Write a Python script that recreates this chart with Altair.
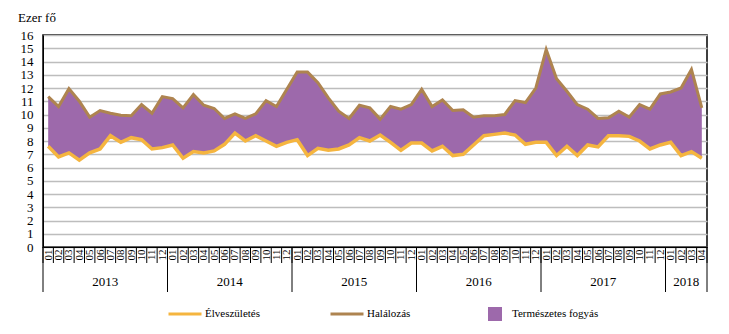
import json
import altair as alt
import pandas as pd

# ---- data (thousand persons) ----
years = [2013, 2014, 2015, 2016, 2017, 2018]
months_in_year = [12, 12, 12, 12, 12, 4]
month_names = ["01", "02", "03", "04", "05", "06", "07", "08", "09", "10", "11", "12"]

births = [
    7.6, 6.8, 7.1, 6.55, 7.1, 7.4, 8.4, 7.9, 8.25, 8.1, 7.4, 7.5,
    7.7, 6.7, 7.2, 7.1, 7.25, 7.75, 8.6, 8.0, 8.4, 8.0, 7.6, 7.9,
    8.1, 6.9, 7.45, 7.3, 7.4, 7.7, 8.25, 8.0, 8.45, 7.9, 7.3, 7.85,
    7.85, 7.25, 7.6, 6.9, 7.0, 7.7, 8.4, 8.5, 8.6, 8.45, 7.75, 7.9,
    7.9, 6.9, 7.6, 6.9, 7.7, 7.55, 8.4, 8.4, 8.35, 8.0, 7.4, 7.7,
    7.9, 6.9, 7.2, 6.7,
]
deaths = [
    11.35, 10.6, 11.95, 11.0, 9.8, 10.3, 10.1, 9.95, 9.9, 10.75, 10.1, 11.35,
    11.2, 10.5, 11.5, 10.7, 10.45, 9.7, 10.05, 9.7, 10.05, 11.05, 10.6, 11.9,
    13.2, 13.2, 12.4, 11.25, 10.25, 9.7, 10.7, 10.5, 9.65, 10.6, 10.4, 10.75,
    11.9, 10.6, 11.1, 10.3, 10.35, 9.8, 9.9, 9.9, 10.0, 11.05, 10.9, 12.0,
    14.9, 12.7, 11.75, 10.75, 10.4, 9.7, 9.75, 10.25, 9.8, 10.75, 10.4, 11.55,
    11.7, 12.0, 13.4, 10.5,
]
series_names = ["Élveszületés", "Halálozás", "Természetes fogyás"]
y_title = "Ezer fő"

# ---- build tables ----
month_labels = []
year_rows = []
bounds = []
start = 0
for y, n in zip(years, months_in_year):
    month_labels += month_names[:n]
    year_rows.append({"year": str(y), "mid": start + (n - 1) / 2})
    bounds.append(start - 0.5)
    start += n
bounds.append(start - 0.5)
N = len(births)

df = pd.DataFrame({"i": list(range(N)), "b": births, "d": deaths})
df_years = pd.DataFrame(year_rows)
df_mb = pd.DataFrame({"x": [k - 0.5 for k in range(N + 1)]})
df_yb = pd.DataFrame({"x": bounds})
df_title = pd.DataFrame({"t": [y_title]})

FONT = "Liberation Serif"
PURPLE = "#9D69AB"
C_BIRTH = "#F5B53F"
C_DEATH = "#AE8450"
H = 212
W = 664

xscale = alt.Scale(domain=[-0.5, N - 0.5], nice=False, zero=False)
yscale = alt.Scale(domain=[0, 16], nice=False)

x_axis = alt.Axis(
    values=list(range(N)),
    labelExpr=json.dumps(month_labels) + "[datum.value]",
    labelAngle=-90,
    labelFont=FONT,
    labelFontSize=11,
    labelColor="black",
    labelPadding=2,
    ticks=False,
    grid=False,
    domainColor="black",
    domainWidth=1,
    title=None,
    labelOverlap=False,
)
y_axis = alt.Axis(
    values=list(range(17)),
    grid=True,
    gridColor="#BDBDBD",
    gridWidth=1.5,
    ticks=False,
    domainColor="black",
    labelFont=FONT,
    labelFontSize=13,
    labelColor="black",
    labelPadding=10,
    labelOverlap=False,
    title=None,
)

color_scale = alt.Scale(domain=series_names[:2], range=[C_BIRTH, C_DEATH])
color_legend = alt.Legend(
    orient="none", legendX=124, legendY=261, direction="horizontal",
    symbolType="stroke", symbolSize=1089, symbolStrokeWidth=3,
    labelFont=FONT, labelFontSize=11, labelColor="black", labelOffset=2,
    columnPadding=64, title=None,
)
fill_legend = alt.Legend(
    orient="none", legendX=445, legendY=272, direction="horizontal",
    symbolType="square", symbolSize=196, symbolStrokeWidth=0,
    labelFont=FONT, labelFontSize=11, labelColor="black", labelOffset=10,
    title=None,
)

X = alt.X("i:Q", scale=xscale, axis=x_axis)
base = alt.Chart(df)

area = base.mark_area(opacity=1).transform_calculate(
    s=json.dumps(series_names[2])
).encode(
    x=X,
    y=alt.Y("b:Q", scale=yscale, axis=y_axis),
    y2="d:Q",
    fill=alt.Fill("s:N", scale=alt.Scale(domain=[series_names[2]], range=[PURPLE]), legend=fill_legend),
)

line_b = base.mark_line(strokeWidth=3.5).transform_calculate(
    s=json.dumps(series_names[0])
).encode(
    x=X,
    y=alt.Y("b:Q", scale=yscale, axis=y_axis),
    color=alt.Color("s:N", scale=color_scale, legend=color_legend),
)
line_d = base.mark_line(strokeWidth=3).transform_calculate(
    s=json.dumps(series_names[1])
).encode(
    x=X,
    y=alt.Y("d:Q", scale=yscale, axis=y_axis),
    color=alt.Color("s:N", scale=color_scale, legend=color_legend),
)

month_sep = alt.Chart(df_mb).mark_rule(color="black", strokeWidth=1).encode(
    x=alt.X("x:Q", scale=xscale, axis=x_axis),
    y=alt.value(H),
    y2=alt.value(H + 16),
)
year_sep = alt.Chart(df_yb).mark_rule(color="black", strokeWidth=1).encode(
    x=alt.X("x:Q", scale=xscale, axis=x_axis),
    y=alt.value(H),
    y2=alt.value(H + 45),
)
year_text = alt.Chart(df_years).mark_text(font=FONT, fontSize=13, color="black", baseline="middle").encode(
    x=alt.X("mid:Q", scale=xscale, axis=x_axis),
    y=alt.value(H + 35),
    text="year:N",
)
title_text = alt.Chart(df_title).mark_text(
    font=FONT, fontSize=13, color="black", align="left", baseline="middle"
).encode(
    x=alt.value(-25),
    y=alt.value(-17),
    text="t:N",
)

chart = alt.layer(area, line_b, line_d, month_sep, year_sep, year_text, title_text).properties(
    width=W,
    height=H,
    padding={"left": 43, "top": 35, "right": 22, "bottom": 87},
    autosize=alt.AutoSizeParams(type="none"),
    background="white",
).configure(
    font=FONT
).configure_axis(
    labelFont=FONT, titleFont=FONT
).configure_legend(
    labelFont=FONT, titleFont=FONT
).configure_text(
    font=FONT
).configure_view(stroke="black", strokeWidth=1.5)

chart.save("out.html", embed_options={"renderer": "svg", "actions": False})
